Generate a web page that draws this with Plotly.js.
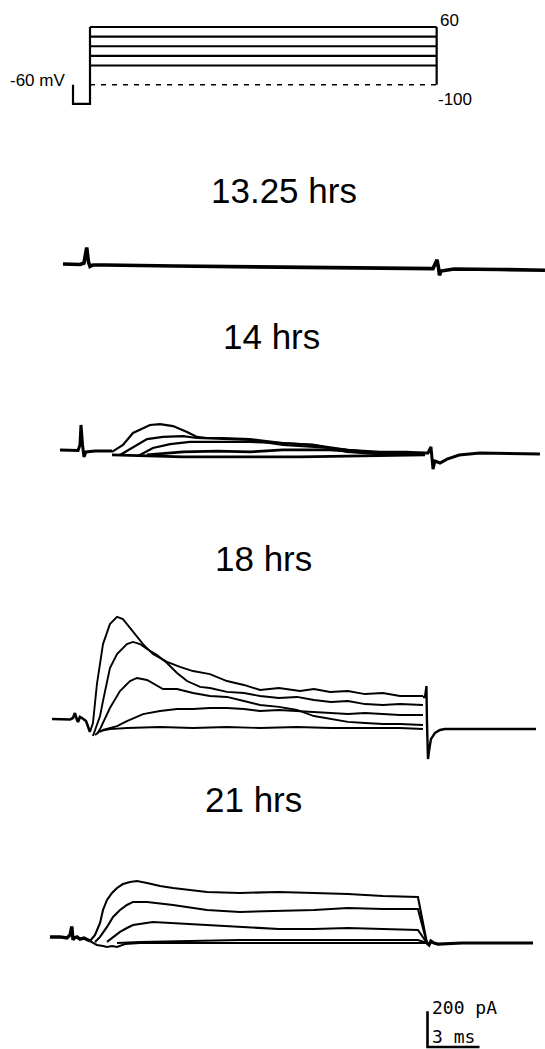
<!DOCTYPE html>
<html><head><meta charset="utf-8">
<script src="https://cdn.plot.ly/plotly-3.0.1.min.js"></script>
<style>html,body{margin:0;padding:0;background:#fff;}#chart{width:545px;height:1049px;}</style>
</head><body><div id="chart"></div>
<script>
// ---------- DATA (time in ms from step onset, current in pA, voltage in mV) ----------
const PROTO_LEVELS = [60, 40, 20, 0, -20];
const PROTO_HOLD = -60;
const PROTO_PRE = -100;
const PROTO_STEP_MS = 20;
const PROTO_PRE_MS = 0.98;

const PANEL_LABELS = ["13.25 hrs", "14 hrs", "18 hrs", "21 hrs"];
const SCALE_PA = 200, SCALE_MS = 3;
const SCALE_LABELS = ["200 pA", "3 ms"];
const PROTO_LABELS = ["-60 mV", "60", "-100"];

// 13.25 hrs
const A_t = [-1.56,-0.58,-0.35,-0.19,-0.09,0,0.17,0.87,4.9,10.96,15.0,19.04,19.79,19.96,20.02,20.11,20.16,20.25,21.0,23.65,26.25];
const A_i = [6,3,11,98,17,-8,0,0,-6,-10,-13,-19,-20,17,29,-17,-58,-34,-22,-25,-29];

// 14 hrs
const B_pre_t = [-1.73,-0.69,-0.58,-0.52,-0.43,-0.35,-0.23,0.29,1.27];
const B_pre_i = [17,14,45,157,45,-22,6,11,11];
const B1_t = [1.27,1.9,2.48,3.46,4.04,4.79,5.6,6.17,6.75,7.67,9.23,11.13,12.87,14.83,16.73,18.29,19.33];
const B1_i = [6,45,112,157,162,151,118,90,84,84,78,56,45,17,6,6,0];
const B2_t = [1.73,2.48,3.29,4.21,5.37,6.17,7.67,9.23,11.13,13.85,16.73,19.33];
const B2_i = [-11,34,78,90,95,84,78,73,45,28,0,0];
const B3_t = [2.77,3.63,4.62,5.77,7.33,9.23,11.13,12.87,14.83,16.73,19.33];
const B3_i = [-17,28,50,62,62,62,56,45,6,-6,-6];
const B4_t = [3.29,5.37,7.33,9.23,11.13,13.85,16.73,19.33];
const B4_i = [-11,6,11,6,17,17,0,0];
const B5_t = [1.27,5.37,12.12,16.73,19.33];
const B5_i = [-11,-22,-22,-17,-11];
const B_post_t = [19.33,19.5,19.67,19.73,19.79,19.9,20.19,20.6,21.3,22.5,25.96];
const B_post_i = [0,0,34,-39,-90,-45,-56,-34,-11,0,-6];

// 18 hrs
const C_pre_t = [-2.19,-1.73,-1.15,-0.98,-0.87,-0.75,-0.69,-0.58,-0.46,-0.23,-0.12,0];
const C_pre_i = [50,50,48,56,84,45,34,62,56,39,6,-22];
const C1_t = [0,0.17,0.4,0.75,1.15,1.56,1.9,2.31,2.71,3.06,3.63,4.44,5.19,5.94,6.92,7.9,8.88,9.81,10.9,12.12,12.92,13.85,14.88,15.87,16.9,17.88,19.21];
const C1_i = [-22,28,246,470,582,622,610,560,515,470,414,370,342,319,302,263,241,213,224,207,218,202,207,190,196,179,179];
const C2_t = [0.17,0.58,0.75,1.15,1.56,2.13,2.48,2.88,3.29,3.87,4.44,5.02,5.6,5.94,6.35,6.92,7.9,8.88,9.81,10.9,11.94,12.92,13.9,14.88,15.87,16.9,17.88,19.21];
const C2_i = [-45,67,151,336,414,470,482,470,442,409,364,308,263,246,230,224,202,196,179,168,174,157,146,151,134,129,134,129];
const C3_t = [0.4,0.58,1.15,1.73,2.31,2.71,3.29,3.87,4.21,5.02,5.94,6.92,7.9,8.88,9.81,10.9,11.94,12.92,13.9,14.88,15.87,16.9,17.88,19.21];
const C3_i = [-34,-6,112,207,263,280,269,235,218,218,196,179,174,151,129,118,101,67,50,34,28,22,22,17];
const C4_t = [0.58,0.75,1.56,2.13,3.06,4.04,5.02,5.94,6.92,7.9,8.88,9.81,10.9,11.94,12.92,13.9,14.88,15.87,16.9,17.88,19.21];
const C4_i = [-22,-11,11,39,78,95,106,106,112,112,106,95,101,95,90,84,78,84,78,73,73];
const C5_t = [0.29,0.58,1.15,2.13,4.04,5.94,7.9,9.81,11.94,13.9,15.87,17.88,19.21];
const C5_i = [-39,-17,-6,0,6,0,6,0,6,0,0,0,-6];
const C_post_t = [19.21,19.33,19.38,19.41,19.44,19.5,19.56,19.67,19.9,20.19,20.48,22.5,25.73];
const C_post_i = [174,174,207,235,39,-174,-129,-62,-28,-11,-6,-6,-6];

// 21 hrs
const D_pre_t = [-2.31,-1.73,-1.33,-1.15,-1.07,-1.04,-0.98,-0.92,-0.75,-0.58,-0.35,-0.17,0];
const D_pre_i = [34,34,28,45,84,84,17,28,34,22,28,17,11];
const D1_t = [0,0.29,0.58,0.75,0.98,1.27,1.56,1.9,2.31,2.71,3.29,4.04,4.79,5.77,6.75,8.65,10.9,12.92,14.88,16.9,18.92,19.44];
const D1_i = [11,45,112,185,241,280,308,330,342,347,336,319,308,297,286,280,286,280,274,263,258,0];
const D2_t = [0.29,0.58,0.98,1.33,1.73,2.13,2.48,3.29,4.79,6.75,8.65,10.9,12.92,14.88,16.9,18.92,19.44];
const D2_i = [6,34,90,146,185,213,230,230,213,185,174,179,185,196,190,190,0];
const D3_t = [0.98,1.33,1.73,2.13,2.48,3.63,4.79,6.75,8.65,10.9,12.92,14.88,16.9,18.92,19.44];
const D3_i = [6,34,62,84,101,118,112,101,90,78,78,84,78,73,0];
const D4_t = [1.56,2.88,5.77,8.65,12.92,16.9,18.92,19.44];
const D4_i = [0,6,11,17,17,17,17,0];
const D5_t = [0,0.4,0.75,0.98,1.27,1.56,2.02,2.88,5.77,8.65,12.92,16.9,18.92,19.44];
const D5_i = [11,-11,-17,-22,-17,-22,-6,0,0,0,0,0,0,0];
const D_post_t = [19.44,19.56,19.67,19.85,20.08,21.46,23.77,25.56];
const D_post_i = [0,-11,11,0,-6,0,0,0];

// ---------- LAYOUT GEOMETRY ----------
const W = 545, H = 1049;
const T0_PX = 90, PX_PER_MS = 17.333;
const PA_PER_PX = 5.6, MV_PER_PX = 2.079;
const PROTO_TOP_PX = 27;            // pixel row of +60 mV
const BASE_PX = [265, 453, 728, 943]; // pixel rows of 0 pA for each panel
const SCALE_BASE_PX = 1047, SCALE_X_PX = 427.5;

function yRange(basePx) { return [-(H - basePx) * PA_PER_PX, basePx * PA_PER_PX]; }

const traces = [];
function add(x, y, axis, width, dash) {
  traces.push({x: x, y: y, yaxis: axis, type: 'scatter', mode: 'lines', hoverinfo: 'skip',
    line: {color: '#000', width: width, dash: dash || 'solid', shape: 'linear'}});
}

// Protocol
add([-PROTO_PRE_MS, -PROTO_PRE_MS, 0, 0], [PROTO_HOLD, PROTO_PRE, PROTO_PRE, PROTO_LEVELS[0]], 'y', 2.2);
PROTO_LEVELS.forEach(v => add([0, PROTO_STEP_MS], [v, v], 'y', 2.2));
add([PROTO_STEP_MS, PROTO_STEP_MS], [PROTO_LEVELS[0], PROTO_HOLD], 'y', 2.2);
add([0, PROTO_STEP_MS], [PROTO_HOLD, PROTO_HOLD], 'y', 1.6, '5px,6px');

// 13.25 hrs
add(A_t, A_i, 'y2', 3.6);
// 14 hrs
add(B_pre_t, B_pre_i, 'y3', 3);
[[B1_t,B1_i],[B2_t,B2_i],[B3_t,B3_i]].forEach(p => add(p[0], p[1], 'y3', 2.2));
[[B4_t,B4_i],[B5_t,B5_i]].forEach(p => add(p[0], p[1], 'y3', 2.8));
add(B_post_t, B_post_i, 'y3', 3);
// 18 hrs
add(C_pre_t, C_pre_i, 'y4', 2.6);
[[C1_t,C1_i],[C2_t,C2_i],[C3_t,C3_i],[C4_t,C4_i],[C5_t,C5_i]].forEach(p => add(p[0], p[1], 'y4', 1.9));
add(C_post_t, C_post_i, 'y4', 2.4);
// 21 hrs
add(D_pre_t, D_pre_i, 'y5', 3.4);
[[D1_t,D1_i],[D2_t,D2_i],[D3_t,D3_i],[D4_t,D4_i],[D5_t,D5_i]].forEach(p => add(p[0], p[1], 'y5', 2.1));
add(D_post_t, D_post_i, 'y5', 3.2);

// Scale bar
const sx0 = (SCALE_X_PX - T0_PX) / PX_PER_MS;
add([sx0, sx0, sx0 + SCALE_MS], [SCALE_PA, 0, 0], 'y6', 2.6);

const hidden = {visible: false, fixedrange: true};
const layout = {
  width: W, height: H, margin: {l: 0, r: 0, t: 0, b: 0}, showlegend: false,
  paper_bgcolor: '#fff', plot_bgcolor: '#fff',
  xaxis: Object.assign({range: [-T0_PX / PX_PER_MS, (W - T0_PX) / PX_PER_MS]}, hidden),
  yaxis: Object.assign({range: [60 - (H - PROTO_TOP_PX) * MV_PER_PX, 60 + PROTO_TOP_PX * MV_PER_PX]}, hidden),
  yaxis2: Object.assign({range: yRange(BASE_PX[0]), overlaying: 'y'}, hidden),
  yaxis3: Object.assign({range: yRange(BASE_PX[1]), overlaying: 'y'}, hidden),
  yaxis4: Object.assign({range: yRange(BASE_PX[2]), overlaying: 'y'}, hidden),
  yaxis5: Object.assign({range: yRange(BASE_PX[3]), overlaying: 'y'}, hidden),
  yaxis6: Object.assign({range: yRange(SCALE_BASE_PX), overlaying: 'y'}, hidden),
  annotations: []
};
function note(text, px, py, size, xanchor, family) {
  layout.annotations.push({text: text, xref: 'paper', yref: 'paper', x: px / W, y: 1 - py / H,
    xanchor: xanchor, yanchor: 'middle', showarrow: false,
    font: {family: family || 'Liberation Sans, Arial, sans-serif', size: size, color: '#000'}});
}
const titlePos = [[284, 190], [271, 336], [263, 558], [253, 799]];
PANEL_LABELS.forEach((t, k) => note(t, titlePos[k][0], titlePos[k][1], 35, 'center'));
note(PROTO_LABELS[0], 67, 80, 17, 'right');
note(PROTO_LABELS[1], 438, 21, 17, 'left');
note(PROTO_LABELS[2], 436, 99, 17, 'left');
note(SCALE_LABELS[0], 430, 1007, 18, 'left', 'DejaVu Sans Mono, monospace');
note(SCALE_LABELS[1], 430, 1036, 18, 'left', 'DejaVu Sans Mono, monospace');

Plotly.newPlot('chart', traces, layout, {staticPlot: true, displayModeBar: false});
</script></body></html>
